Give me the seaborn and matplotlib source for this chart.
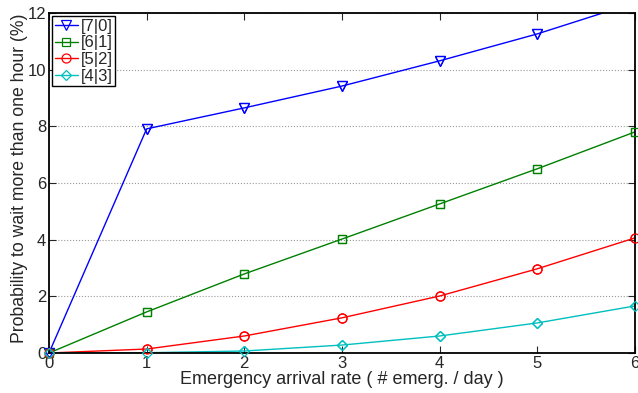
import matplotlib
matplotlib.use("Agg")
import matplotlib.pyplot as plt
import numpy as np
import pandas as pd
import seaborn as sns

rate = [0, 1, 2, 3, 4, 5, 6]
p_70 = [0.0, 7.91, 8.65, 9.42, 10.31, 11.26, 12.36]
p_61 = [0.0, 1.45, 2.79, 4.02, 5.26, 6.50, 7.80]
p_52 = [0.0, 0.14, 0.60, 1.24, 2.01, 2.97, 4.06]
p_43 = [0.0, 0.01, 0.07, 0.28, 0.60, 1.06, 1.66]

SERIES = [
    ("[7|0]", p_70, (0, 0, 1), "v", 7),
    ("[6|1]", p_61, (0, 0.5, 0), "s", 6),
    ("[5|2]", p_52, (1, 0, 0), "o", 6.5),
    ("[4|3]", p_43, (0, 0.75, 0.75), "D", 5.5),
]
YMAX = 12

sns.set_style("ticks")
plt.rcParams["font.family"] = ["Liberation Sans", "DejaVu Sans"]

df = pd.concat([pd.DataFrame({"rate": rate, "p": v, "cfg": lab})
                for lab, v, _, _, _ in SERIES])

fig = plt.figure(figsize=(6.38, 3.93), dpi=100)
ax = fig.add_axes([0.0768, 0.1018, 0.9182, 0.8652])

for lab, v, col, mk, ms in SERIES:
    sub = df[df["cfg"] == lab]
    sns.lineplot(data=sub, x="rate", y="p", ax=ax, color=col, lw=1.0,
                 marker=mk, markersize=ms, markerfacecolor="none",
                 markeredgecolor=col, markeredgewidth=0.9, label=lab)
    # MATLAB-style: markers inside the limits are not clipped at the frame
    inside = sub[sub["p"] <= YMAX]
    ax.plot(inside["rate"], inside["p"], ls="none", marker=mk, markersize=ms,
            markerfacecolor="none", markeredgecolor=col, markeredgewidth=0.9,
            clip_on=False, zorder=5)

ax.set_xlim(0, 6)
ax.set_ylim(0, YMAX)
ax.set_xticks(range(0, 7))
ax.set_yticks(range(0, 13, 2))
ax.yaxis.grid(True, linestyle=":", color="0.6", lw=0.8)
ax.tick_params(direction="in", top=True, right=True, labelsize=12, length=5,
               pad=2)
for s in ax.spines.values():
    s.set_linewidth(1.3)
    s.set_color("black")
ax.set_xlabel("Emergency arrival rate ( # emerg. / day )", fontsize=13, labelpad=0)
ax.set_ylabel("Probability to wait more than one hour (%)", fontsize=12.7)
ax.yaxis.set_label_coords(-0.036, 0.515)

leg = ax.legend(loc="upper left", fontsize=12, frameon=True, fancybox=False,
                borderpad=0.15, handlelength=1.4, handletextpad=0.15,
                labelspacing=0.1, borderaxespad=0.2)
leg.get_frame().set_edgecolor("black")
leg.get_frame().set_linewidth(1.0)
leg.get_frame().set_alpha(1)

fig.savefig("out.png", dpi=100)
